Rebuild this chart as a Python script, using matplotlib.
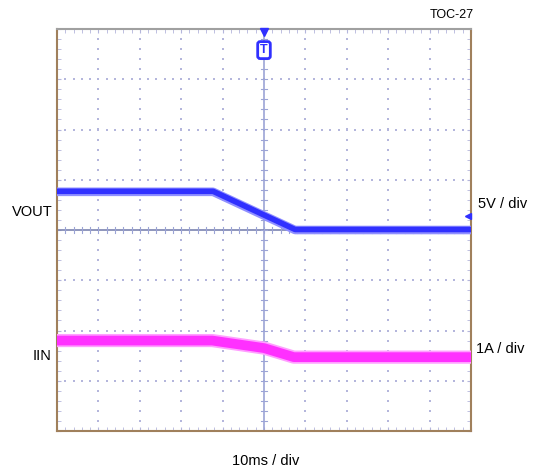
import numpy as np
import matplotlib
matplotlib.use('Agg')
import matplotlib.pyplot as plt

plt.rcParams['font.family'] = ['Liberation Sans', 'DejaVu Sans']

# scope settings
volts_per_div = 5.0
amps_per_div = 1.0
iin_offset_div = -3.5

# traces, time in divisions (10ms / div), trigger at 0
vout_t = [-5.0, -1.23, 0.75, 5.0]
vout_v = [3.8, 3.8, 0.0, 0.0]
iin_t = [-5.0, -1.25, 0.0, 0.72, 5.0]
iin_a = [1.30, 1.30, 1.15, 0.97, 0.97]

W, H = 535, 469
fig = plt.figure(figsize=(W / 100, H / 100), dpi=100)
left, right, top, bottom = 57, 471, 29, 431
ax = fig.add_axes([left / W, (H - bottom) / H, (right - left) / W, (bottom - top) / H])
ax.set_xlim(-5, 5)
ax.set_ylim(-4, 4)

grid_col = '#b4b6dc'
minor = np.arange(-4, 4.01, 0.2)
minor_x = np.arange(-5, 5.01, 0.2)

# dotted graticule
for gx in range(-4, 5):
    if gx == 0:
        continue
    ax.scatter(np.full(len(minor), gx), minor, s=1.0, marker='s', color=grid_col, lw=0, zorder=1)
for gy in range(-3, 4):
    if gy == 0:
        continue
    ax.scatter(minor_x, np.full(len(minor_x), gy), s=1.0, marker='s', color=grid_col, lw=0, zorder=1)

# center axes with ticks
ax.axvline(0, color='#9ca4d6', lw=1.2, zorder=2)
ax.axhline(0, color='#7c84b0', lw=1.2, zorder=2)
for y in minor:
    ax.plot([-0.08, 0.08], [y, y], color='#9ca4d6', lw=0.8, zorder=2)
for x in minor_x:
    ax.plot([x, x], [-0.06, 0.06], color='#9ca4d6', lw=0.8, zorder=2)

# traces
vout_div = np.array(vout_v) / volts_per_div
iin_div = np.array(iin_a) / amps_per_div + iin_offset_div
ax.plot(vout_t, vout_div, color='#9090ff', lw=6.2, solid_capstyle='butt', zorder=3)
ax.plot(vout_t, vout_div + 0.01, color='#3030ff', lw=4.0, solid_capstyle='butt', zorder=4)
ax.plot(iin_t, iin_div, color='#ffa0ff', lw=9.5, solid_capstyle='butt', zorder=3)
ax.plot(iin_t, iin_div, color='#ff30ff', lw=7.0, solid_capstyle='butt', zorder=4)

# trigger and channel markers
ax.plot([0], [3.95], marker='v', color='#3030ff', ms=6, clip_on=False, zorder=6)
ax.text(0, 3.58, 'T', ha='center', va='center', fontsize=9, color='#3030ff', fontweight='bold',
        bbox=dict(boxstyle='round,pad=0.2', fc='white', ec='#3030ff', lw=2), zorder=6)
ax.plot([4.93], [0.28], marker='<', color='#3030ff', ms=5, clip_on=False, zorder=6)

# frame
ax.set_xticks(np.arange(-5, 5.01, 1.0))
ax.set_yticks(np.arange(-4, 4.01, 1.0))
ax.set_xticks(minor_x, minor=True)
ax.set_yticks(minor, minor=True)
ax.tick_params(which='both', direction='in', length=3, color=grid_col,
               labelbottom=False, labelleft=False, top=True, right=True)
for s in ax.spines.values():
    s.set_color('#a0805c')
    s.set_linewidth(1.5)
ax.spines['top'].set_color('#a0a0a0')

# labels
fs = 10.5
fig.text(12 / W, 1 - 212 / H, 'VOUT', fontsize=fs, ha='left', va='center')
fig.text(33 / W, 1 - 356 / H, 'IIN', fontsize=fs, ha='left', va='center')
fig.text(478 / W, 1 - 204 / H, '5V / div', fontsize=fs, ha='left', va='center')
fig.text(476 / W, 1 - 349 / H, '1A / div', fontsize=fs, ha='left', va='center')
fig.text(266 / W, 1 - 461 / H, '10ms / div', fontsize=fs, ha='center', va='center')
fig.text(474 / W, 1 - 15 / H, 'TOC-27', fontsize=9, ha='right', va='center')

fig.savefig('out.png', dpi=100)
